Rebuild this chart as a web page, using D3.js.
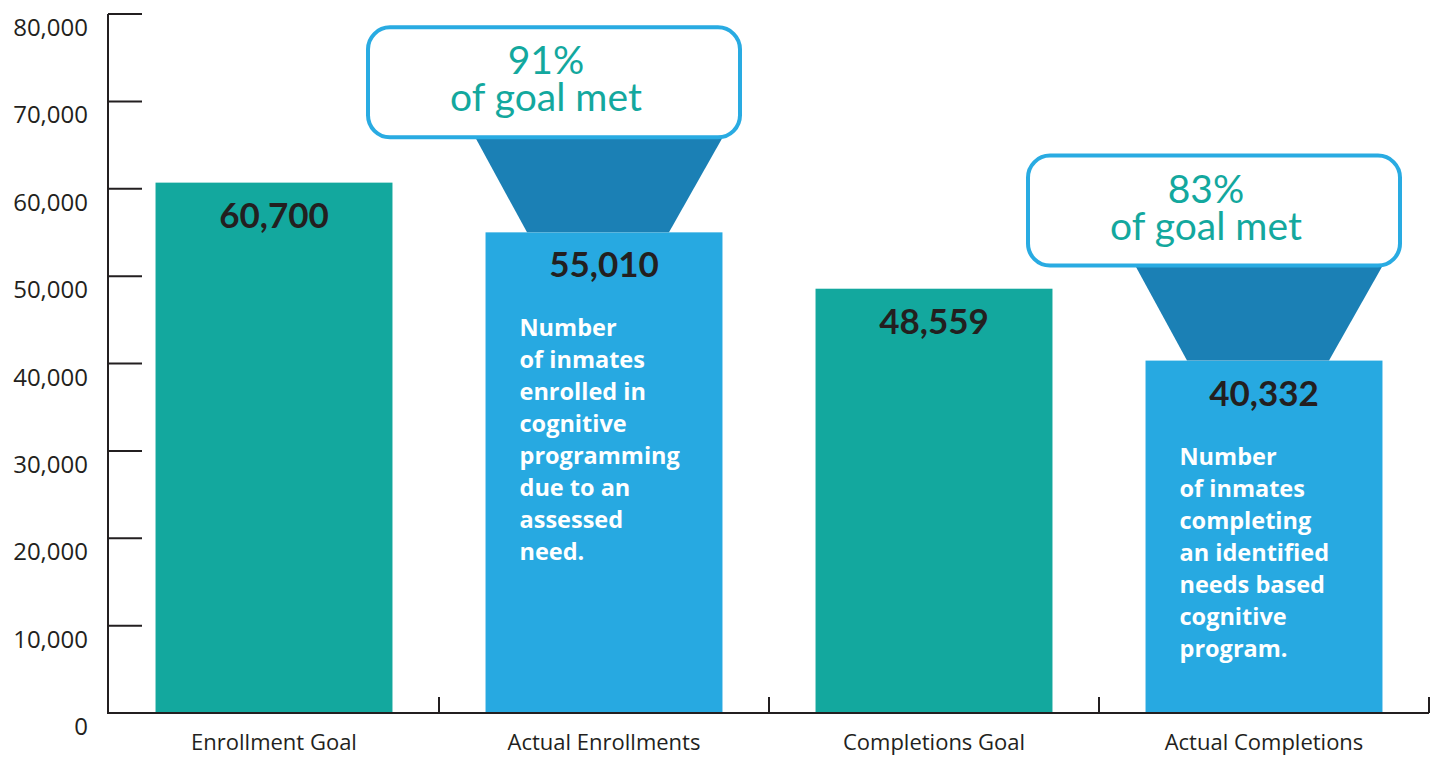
<!DOCTYPE html>
<html>
<head>
<meta charset="utf-8">
<script src="https://cdn.jsdelivr.net/npm/d3@7"></script>
<style>
  body { margin: 0; background: #fff; }
  svg { display: block; }
</style>
</head>
<body>
<svg id="chart"></svg>
<script>
// data
var categories = ["Enrollment Goal", "Actual Enrollments", "Completions Goal", "Actual Completions"];
var values = [60700, 55010, 48559, 40332];
var kinds = ["goal", "actual", "goal", "actual"];
var yTicks = [0, 10000, 20000, 30000, 40000, 50000, 60000, 70000, 80000];
var calloutBars = [1, 3];
var calloutPct = ["91%", "83%"];
var notes = [
  null,
  ["Number", "of inmates", "enrolled in", "cognitive", "programming", "due to an", "assessed", "need."],
  null,
  ["Number", "of inmates", "completing", "an identified", "needs based", "cognitive", "program."]
];

var width = 1437, height = 757;
var svg = d3.select("#chart").attr("width", width).attr("height", height);

var ink = "#231f20";
var colors = { goal: "#13a89e", actual: "#27a9e1" };

//scales
var x = d3.scaleBand().domain(categories).range([109, 1429]).paddingInner(0.282).paddingOuter(0.141);
var y = d3.scaleLinear().domain([0, 80000]).range([713, 14]);

// bars
svg.selectAll("rect.bar")
  .data(values)
  .enter()
  .append("rect")
  .attr("class", "bar")
  .attr("x", function (d, i) { return x(categories[i]); })
  .attr("y", function (d) { return y(d); })
  .attr("width", x.bandwidth())
  .attr("height", function (d) { return y(0) - y(d); })
  .attr("fill", function (d, i) { return colors[kinds[i]]; });

// y axis: line plus inward ticks
svg.append("line")
  .attr("x1", 108).attr("x2", 108)
  .attr("y1", y(80000)).attr("y2", y(0))
  .attr("stroke", ink).attr("stroke-width", 2);

yTicks.forEach(function (t) {
  if (t > 0) {
    svg.append("line")
      .attr("x1", 108).attr("x2", 142)
      .attr("y1", y(t)).attr("y2", y(t))
      .attr("stroke", ink).attr("stroke-width", 2);
  }
  svg.append("text")
    .text(d3.format(",")(t))
    .attr("x", 88)
    .attr("y", y(t) + 22)
    .attr("text-anchor", "end")
    .style("font-family", "'Open Sans', sans-serif")
    .style("font-size", "24px")
    .attr("fill", ink);
});

// x axis
svg.append("line")
  .attr("x1", 107).attr("x2", 1429)
  .attr("y1", y(0)).attr("y2", y(0))
  .attr("stroke", ink).attr("stroke-width", 2);

var bounds = [x.range()[0]].concat(categories.map(function (c) { return x(c) - x.step() * x.paddingOuter() + x.step(); }));
bounds.forEach(function (b, i) {
  svg.append("line")
    .attr("x1", i == 0 ? b - 1 : b).attr("x2", i == 0 ? b - 1 : b)
    .attr("y1", y(0) - 16).attr("y2", y(0))
    .attr("stroke", ink).attr("stroke-width", 2);
});

categories.forEach(function (c) {
  svg.append("text")
    .text(c)
    .attr("x", x(c) + x.bandwidth() / 2)
    .attr("y", 750)
    .attr("text-anchor", "middle")
    .style("font-family", "'Open Sans', sans-serif")
    .style("font-size", "22px")
    .attr("fill", ink);
});

// value labels
values.forEach(function (v, i) {
  svg.append("text")
    .text(d3.format(",")(v))
    .attr("x", x(categories[i]) + x.bandwidth() / 2)
    .attr("y", y(v) + 45)
    .attr("text-anchor", "middle")
    .style("font-family", "Lato, sans-serif")
    .style("font-weight", "bold")
    .style("font-size", "35px")
    .attr("fill", ink);
});

// description text inside the actual bars
notes.forEach(function (lines, i) {
  if (!lines) return;
  var t = svg.append("text")
    .attr("x", x(categories[i]) + 34)
    .attr("y", y(values[i]) + 104)
    .style("font-family", "'Open Sans', sans-serif")
    .style("font-weight", "bold")
    .style("font-size", "23.5px")
    .attr("fill", "#fff");
  lines.forEach(function (l, k) {
    t.append("tspan")
      .attr("x", x(categories[i]) + 34)
      .attr("dy", k == 0 ? 0 : 32)
      .text(l);
  });
});

// "% of goal met" callouts with funnels
calloutBars.forEach(function (bi, k) {
  var cx = x(categories[bi]) + x.bandwidth() / 2;
  var top = y(values[bi]);
  var boxH = 110;
  var boxTop = top - 150 - boxH / 2;
  var boxBottom = boxTop + boxH;
  var fc = cx - 5;

  svg.append("path")
    .attr("d", "M" + (fc - 126) + "," + (boxBottom - 4) +
      "L" + (fc + 126) + "," + (boxBottom - 4) +
      "L" + (fc + 70) + "," + top +
      "L" + (fc - 72) + "," + top + "Z")
    .attr("fill", "#1b80b5");

  svg.append("rect")
    .attr("x", cx - 50 - 186)
    .attr("y", boxTop)
    .attr("width", 372)
    .attr("height", boxH)
    .attr("rx", 22)
    .attr("fill", "#fff")
    .attr("stroke", "#29abe2")
    .attr("stroke-width", 4);

  var tx = cx - 58;
  var t = svg.append("text")
    .attr("x", tx)
    .attr("y", boxTop + 47)
    .attr("text-anchor", "middle")
    .style("font-family", "Lato, sans-serif")
    .style("font-size", "39px")
    .attr("fill", "#13a89e");
  t.append("tspan").attr("x", tx).text(calloutPct[k]);
  t.append("tspan").attr("x", tx).attr("dy", 37).text("of goal met");
});
</script>
</body>
</html>
